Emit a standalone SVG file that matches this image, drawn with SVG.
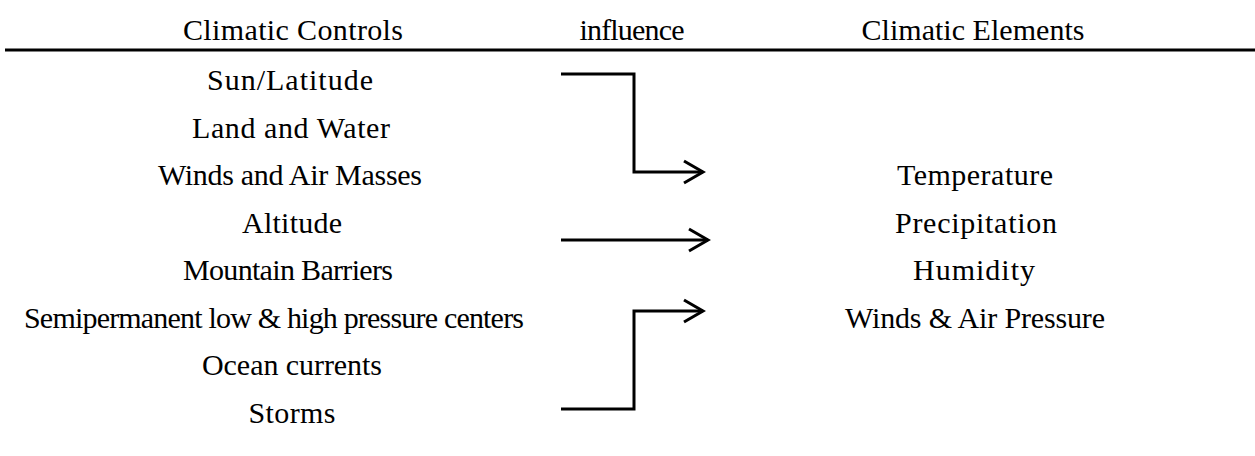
<svg xmlns="http://www.w3.org/2000/svg" width="1255" height="456" viewBox="0 0 1255 456">
<style>
text{font-family:"Liberation Serif","Times New Roman",serif;font-size:30px;fill:#000;text-anchor:middle}
.conn{fill:none;stroke:#000;stroke-width:3}
</style>
<defs>
<marker id="arr" markerUnits="userSpaceOnUse" markerWidth="30" markerHeight="30" viewBox="-25 -15 30 30" refX="0" refY="0" orient="auto">
<path d="M-19,-11 L0,0 L-19,11" fill="none" stroke="#000" stroke-width="3"/>
</marker>
</defs>
<rect width="1255" height="456" fill="#fff"/>
<g id="header">
<text x="293" y="40" textLength="220" lengthAdjust="spacing">Climatic Controls</text>
<text x="632" y="40" textLength="105" lengthAdjust="spacing">influence</text>
<text x="973" y="40" textLength="223" lengthAdjust="spacing">Climatic Elements</text>
<line x1="5" y1="50" x2="1255" y2="50" stroke="#000" stroke-width="3"/>
</g>
<g id="controls">
<g id="c1"><text x="290" y="90" textLength="166" lengthAdjust="spacing">Sun/Latitude</text></g>
<g id="c2"><text x="291" y="137.5" textLength="198" lengthAdjust="spacing">Land and Water</text></g>
<g id="c3"><text x="290" y="185" textLength="264" lengthAdjust="spacing">Winds and Air Masses</text></g>
<g id="c4"><text x="292" y="232.5" textLength="100" lengthAdjust="spacing">Altitude</text></g>
<g id="c5"><text x="288" y="280" textLength="210" lengthAdjust="spacing">Mountain Barriers</text></g>
<g id="c6"><text x="274" y="327.5" textLength="500" lengthAdjust="spacing">Semipermanent low &amp; high pressure centers</text></g>
<g id="c7"><text x="292" y="375" textLength="180" lengthAdjust="spacing">Ocean currents</text></g>
<g id="c8"><text x="292" y="422.5" textLength="87" lengthAdjust="spacing">Storms</text></g>
</g>
<g id="elements">
<g id="e1"><text x="975" y="185" textLength="156" lengthAdjust="spacing">Temperature</text></g>
<g id="e2"><text x="976" y="232.5" textLength="162" lengthAdjust="spacing">Precipitation</text></g>
<g id="e3"><text x="974" y="280" textLength="122" lengthAdjust="spacing">Humidity</text></g>
<g id="e4"><text x="975" y="327.5" textLength="260" lengthAdjust="spacing">Winds &amp; Air Pressure</text></g>
</g>
<g id="connectors">
<path class="conn" d="M561,74 H634 V172 H703" marker-end="url(#arr)"/>
<path class="conn" d="M561,240 H708" marker-end="url(#arr)"/>
<path class="conn" d="M561,409 H634 V311 H703" marker-end="url(#arr)"/>
</g>
</svg>
